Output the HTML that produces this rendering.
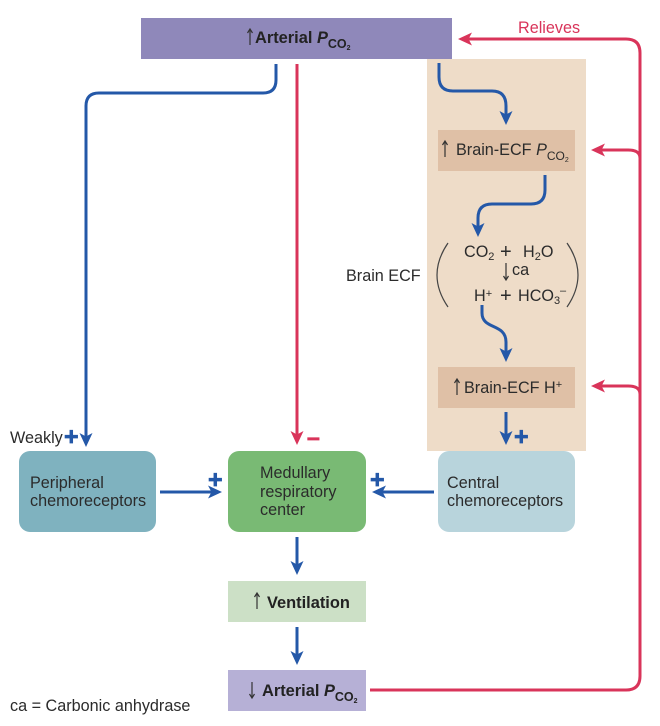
<!DOCTYPE html>
<html><head><meta charset="utf-8"><style>
html,body{margin:0;padding:0;background:#fff}
svg{display:block;filter:blur(.3px)}
text{font-family:"Liberation Sans",sans-serif;font-size:16.2px;fill:#2b2b2b}
.b{font-weight:bold;fill:#222;font-size:16.4px}
.sb{font-size:12.500px;font-weight:bold;font-style:normal}
.s2{font-size:7px;font-weight:bold;font-style:normal}
.sr{font-size:12px}
.s7{font-size:7px}
.sub{font-size:11px}
.p{font-size:25px;font-weight:bold;fill:#2458a8;stroke:#2458a8;stroke-width:.7}
.bl{fill:none;stroke:#2458a8;stroke-width:3}
.rd{fill:none;stroke:#d9345a;stroke-width:3}
.th{fill:none;stroke:#333;stroke-width:1.2}
</style></head><body>
<svg width="660" height="726" viewBox="0 0 660 726" xmlns="http://www.w3.org/2000/svg">
<defs>
<marker id="ab" markerUnits="userSpaceOnUse" markerWidth="16" markerHeight="14" refX="10" refY="6.500" orient="auto"><path d="M0 0L14 6.500L0 13L3.500 6.500Z" fill="#2458a8"/></marker>
<marker id="ar" markerUnits="userSpaceOnUse" markerWidth="16" markerHeight="14" refX="10" refY="6.500" orient="auto"><path d="M0 0L14 6.500L0 13L3.500 6.500Z" fill="#d9345a"/></marker>
</defs>
<rect x="427" y="59" width="159" height="392" fill="#eedcc8"/>
<rect x="141" y="18" width="311" height="41" fill="#8f88ba"/>
<rect x="438" y="130" width="137" height="41" fill="#dfc0a6"/>
<rect x="438" y="367" width="137" height="41" fill="#dfc0a6"/>
<rect x="19" y="451" width="137" height="81" rx="11" fill="#7fb2bf"/>
<rect x="228" y="451" width="138" height="81" rx="11" fill="#79ba74"/>
<rect x="438" y="451" width="137" height="81" rx="11" fill="#b8d4dc"/>
<rect x="228" y="581" width="138" height="41" fill="#cce0c6"/>
<rect x="228" y="670" width="138" height="41" fill="#b6b0d6"/>

<path class="bl" marker-end="url(#ab)" d="M276 64V80Q276 93 263 93H99Q86 93 86 106V443"/>
<path class="rd" marker-end="url(#ar)" d="M297 64V441"/>
<path class="bl" marker-end="url(#ab)" d="M439 63V77Q439 91 453 91H492Q506 91 506 106V121"/>
<path class="bl" marker-end="url(#ab)" d="M545 175V190Q545 204 531 204H492Q478 204 478 218V233"/>
<path class="bl" marker-end="url(#ab)" d="M482 305V313C482 330 506 323 506 342V358"/>
<path class="bl" marker-end="url(#ab)" d="M506 412V441"/>
<path class="bl" marker-end="url(#ab)" d="M160 492H218"/>
<path class="bl" marker-end="url(#ab)" d="M434 492H376"/>
<path class="bl" marker-end="url(#ab)" d="M297 537V571"/>
<path class="bl" marker-end="url(#ab)" d="M297 627V661"/>

<path class="rd" marker-end="url(#ar)" d="M370 690H626Q640 690 640 676V53Q640 39 626 39H462"/>
<path class="rd" marker-end="url(#ar)" d="M640 158Q640 150 628 150H595"/>
<path class="rd" marker-end="url(#ar)" d="M640 394Q640 386 628 386H595"/>

<text x="518" y="33" style="fill:#d9345a">Relieves</text>

<path class="th" d="M250 45V30M247.500 33L250 29L252.500 33"/>
<text x="255" y="43" class="b">Arterial <tspan font-style="italic">P</tspan><tspan class="sb" dy="5">CO</tspan><tspan class="s2" dy="2">2</tspan></text>

<path class="th" d="M445 157V142M442.500 145L445 141L447.500 145"/>
<text x="456" y="155">Brain-ECF <tspan font-style="italic">P</tspan><tspan class="sr" dy="5">CO</tspan><tspan class="s7" dy="2">2</tspan></text>

<text x="464" y="257">CO<tspan class="sub" dy="3">2</tspan></text>
<text x="500" y="258" style="font-size:20px">+</text>
<text x="523" y="257">H<tspan class="sub" dy="3">2</tspan><tspan dy="-3">O</tspan></text>
<path class="th" d="M506 263V279M503.500 276L506 280L508.500 276"/>
<text x="512" y="275">ca</text>
<text x="474" y="301">H<tspan class="sub" dy="-4">+</tspan></text>
<text x="500" y="302" style="font-size:20px">+</text>
<text x="518" y="301">HCO<tspan class="sub" dy="3">3</tspan></text>
<text x="560" y="294" class="sub">–</text>
<path d="M448 243Q426 275 448 307" fill="none" stroke="#444" stroke-width="1.200"/>
<path d="M567 243Q589 275 567 307" fill="none" stroke="#444" stroke-width="1.200"/>
<text x="346" y="281">Brain ECF</text>

<path class="th" d="M457 395V380M454.500 383L457 379L459.500 383"/>
<text x="464" y="393">Brain-ECF H<tspan class="sub" dy="-5">+</tspan></text>

<text x="10" y="443">Weakly</text>
<text x="64" y="445" class="p">+</text>
<text x="307" y="445" class="p" style="fill:#d9345a;stroke:#d9345a;font-size:23px">–</text>
<text x="514" y="445" class="p">+</text>
<text x="208" y="488" class="p">+</text>
<text x="370" y="488" class="p">+</text>

<text x="30" y="488">Peripheral</text>
<text x="30" y="506">chemoreceptors</text>
<text x="260" y="478">Medullary</text>
<text x="260" y="497">respiratory</text>
<text x="260" y="515">center</text>
<text x="447" y="488">Central</text>
<text x="447" y="506">chemoreceptors</text>

<path class="th" d="M257 609V594M254.500 597L257 593L259.500 597"/>
<text x="267" y="608" class="b">Ventilation</text>
<path class="th" d="M252 682V697M249.500 694L252 698L254.500 694"/>
<text x="262" y="696" class="b">Arterial <tspan font-style="italic">P</tspan><tspan class="sb" dy="5">CO</tspan><tspan class="s2" dy="2">2</tspan></text>
<text x="10" y="711">ca = Carbonic anhydrase</text>
</svg>
</body></html>
